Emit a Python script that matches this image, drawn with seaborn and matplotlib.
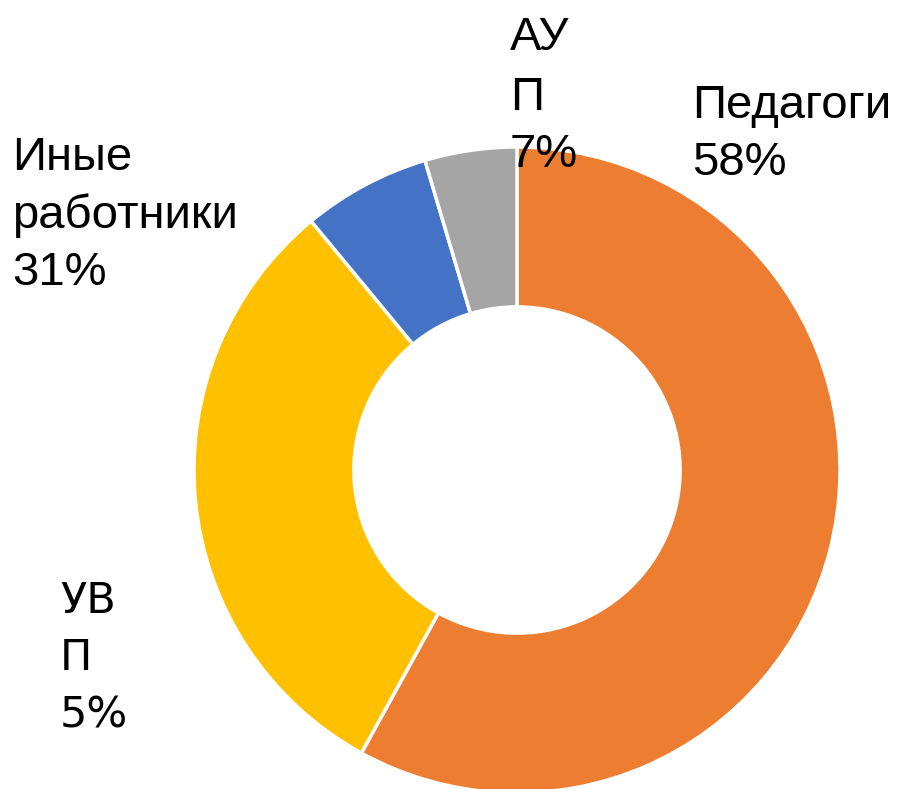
import matplotlib
matplotlib.use("Agg")
import matplotlib.pyplot as plt
import seaborn as sns

# Data
categories = ["Педагоги", "Иные работники", "АУП", "УВП"]
values = [58, 31, 6.4, 4.6]
colors = ["#ED7D31", "#FFC000", "#4472C4", "#A5A5A5"]

sns.set_theme(style="white")
plt.rcParams['font.family'] = ['DejaVu Sans']

W, H = 902, 789
fig = plt.figure(figsize=(W / 100, H / 100), dpi=100)
ax = fig.add_axes([0, 0, 1, 1])

# donut, clockwise from top
cx, cy, r = 517, H - 470, 323
ax.pie(values, colors=colors, startangle=90, counterclock=False,
       radius=r, center=(cx, cy),
       wedgeprops=dict(width=r * 0.495, edgecolor="white", linewidth=2.5))
ax.set_xlim(0, W)
ax.set_ylim(0, H)
ax.set_aspect("equal")
ax.axis("off")

narrow = dict(family=["Liberation Sans", "DejaVu Sans"], fontsize=34, color="black")
normal = dict(family=["DejaVu Sans"], fontsize=31, color="black")

# labels placed as in the original (baselines in pixel rows)
def put(x, y, s, style):
    ax.text(x, H - y, s, ha="left", va="baseline", **style)

put(510, 50, "АУ", narrow)
put(510, 110, "П", narrow)
put(510, 167, "7%", narrow)

put(692, 118, "Педагоги", narrow)
put(692, 175, "58%", narrow)

put(12, 170, "Иные", narrow)
put(12, 228, "работники", narrow)
put(12, 285, "31%", narrow)

put(60, 613, "УВ", normal)
put(60, 670, "П", normal)
put(60, 728, "5%", normal)

fig.savefig("out.png", dpi=100)
